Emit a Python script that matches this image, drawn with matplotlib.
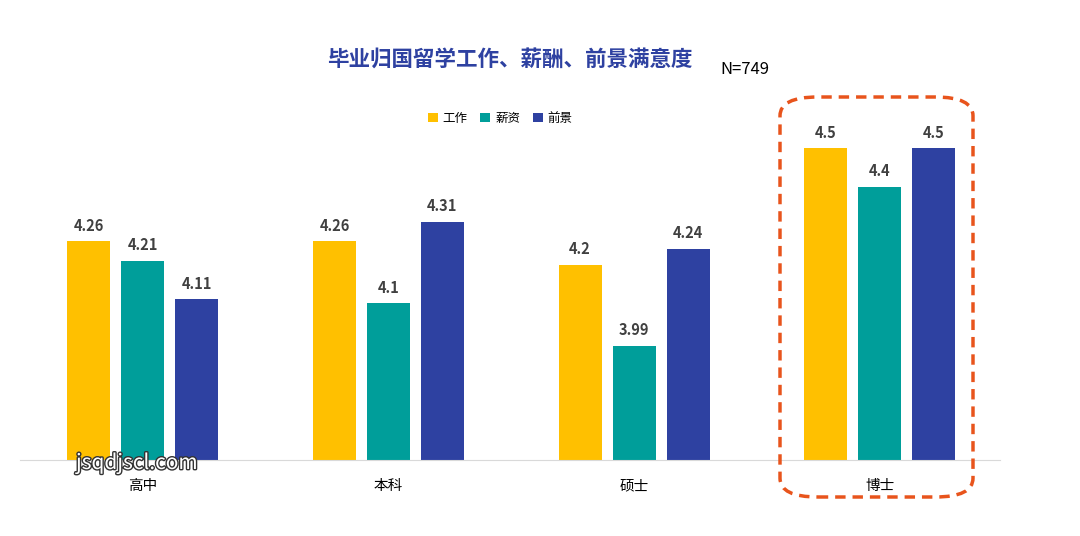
import matplotlib
matplotlib.use("Agg")
import matplotlib.pyplot as plt
from matplotlib.patches import FancyBboxPatch
import matplotlib.patheffects as pe
import numpy as np

plt.rcParams['font.family'] = 'sans-serif'
plt.rcParams['font.sans-serif'] = ['Noto Sans CJK SC', 'Noto Sans CJK JP', 'DejaVu Sans']

categories = ["高中", "本科", "硕士", "博士"]
series_names = ["工作", "薪资", "前景"]
work = [4.26, 4.26, 4.2, 4.5]
salary = [4.21, 4.1, 3.99, 4.4]
future = [4.11, 4.31, 4.24, 4.5]
labels_work = ["4.26", "4.26", "4.2", "4.5"]
labels_salary = ["4.21", "4.1", "3.99", "4.4"]
labels_future = ["4.11", "4.31", "4.24", "4.5"]
colors = ["#FFC000", "#009E9A", "#2E41A1"]

W, H = 1080, 536
fig = plt.figure(figsize=(W/100, H/100), dpi=100)
ax = fig.add_axes([20/W, 1-460/H, 980/W, 400/H])
ymin = 3.695
ax.set_ylim(ymin, ymin + 400/387)
x = np.arange(len(categories))
bw = 43/245.7
step = 54/245.7
ax.set_xlim(-0.5, 3.49)
for i, (vals, labs) in enumerate(zip([work, salary, future], [labels_work, labels_salary, labels_future])):
    xs = x + (i-1)*step
    ax.bar(xs, np.array(vals)-ymin, bottom=ymin, width=bw, color=colors[i], label=series_names[i])
    for xx, v, l in zip(xs, vals, labs):
        ax.text(xx, v+0.02, l, ha='center', va='bottom', fontsize=10.5, fontweight='bold', color='#404040')
for s in ['top', 'right', 'left']:
    ax.spines[s].set_visible(False)
ax.spines['bottom'].set_color('#D9D9D9')
ax.set_yticks([])
ax.set_xticks(x)
ax.set_xticklabels(categories, fontsize=10.5)
ax.tick_params(axis='x', length=0, pad=14)
ax.legend(loc='upper center', bbox_to_anchor=(0.49, 0.898),
          ncol=3, frameon=False, fontsize=9, handlelength=0.8, handleheight=0.8, columnspacing=1.0, handletextpad=0.4)
fig.text(510/W, 1-60/H, "毕业归国留学工作、薪酬、前景满意度", ha='center', va='center', fontsize=15.5, fontweight='bold', color='#2E41A1')
fig.text(720/W, 1-69/H, "N=749", ha='left', va='center', fontsize=12, color='black')
box = FancyBboxPatch((780/W, 1-497/H), 193/W, 400/H, boxstyle="round,pad=0,rounding_size=0.035",
                     transform=fig.transFigure, fill=False, edgecolor='#E8541C', linewidth=2.5, linestyle=(0, (3, 2)))
fig.patches.append(box)
fig.text(76/W, 1-463/H, "jsqdjscl.com", ha='left', va='center', fontsize=15, color='white',
         path_effects=[pe.withStroke(linewidth=2, foreground='#333333')])
fig.savefig("out.png", dpi=100, facecolor='white')
